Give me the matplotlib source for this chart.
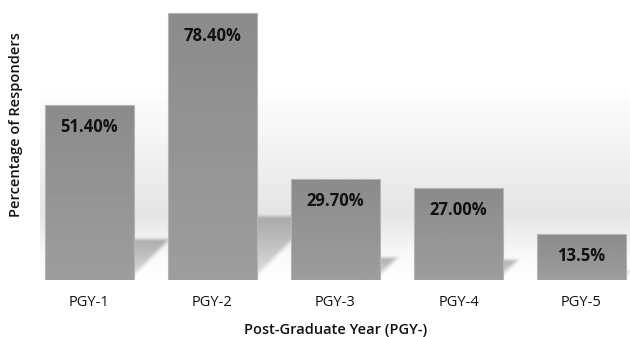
import numpy as np
import matplotlib
matplotlib.use("Agg")
import matplotlib.pyplot as plt

categories = ["PGY-1", "PGY-2", "PGY-3", "PGY-4", "PGY-5"]
values = [51.4, 78.4, 29.7, 27.0, 13.5]
value_labels = ["51.40%", "78.40%", "29.70%", "27.00%", "13.5%"]

plt.rcParams['font.family'] = ['Open Sans', 'DejaVu Sans']

fig = plt.figure(figsize=(6.3, 3.37), dpi=100)
ax = fig.add_axes([40 / 630, 57 / 337, 590 / 630, 280 / 337])

x_lo, x_hi = -0.402, 4.394
y_lo, y_hi = 0, 82.35
x = np.arange(len(categories))
bar_w = 0.72

# background image in axes pixels: soft grey band + floor shadows
W, H = 590, 280
ux = W / (x_hi - x_lo)
uy = H / (y_hi - y_lo)
X, Y = np.meshgrid(np.arange(W) + 0.5, np.arange(H) + 0.5)  # Y = height above floor
px = np.array([0, 25, 50, 65, 100, 150, 200, 280])
gv = np.array([1.0, 0.975, 0.925, 0.895, 0.925, 0.965, 1.0, 1.0])
bg = np.interp(Y, px, gv)

def smooth(t):
    t = np.clip(t, 0, 1)
    return t * t * (3 - 2 * t)

for xi, v in zip(x, values):
    x1 = (xi + bar_w / 2 - x_lo) * ux
    dy = 0.25 * v * uy
    dx = dy
    top = smooth((dy - Y) / 6.0)                   # soft top edge
    diag = smooth(((x1 + Y * dx / dy) - X) / 10.0)  # soft diagonal edge
    inside = top * diag * (X > x1 - 2)
    a = inside * (0.3 + 0.6 * np.clip(Y / dy, 0, 1))
    bg = bg * (1 - a) + 0.63 * a

bg = bg[::-1]
ax.imshow(bg, extent=[x_lo, x_hi, y_lo, y_hi], aspect='auto', cmap='gray',
          vmin=0, vmax=1, zorder=0, interpolation='bilinear')

# bars with a light vertical gradient
bars = ax.bar(x, values, width=bar_w, color='none', edgecolor='#b4b4b4',
              linewidth=0.8, zorder=3)
for b in bars:
    x0 = b.get_x()
    h = b.get_height()
    grad = np.linspace(0.545, 0.615, 50)[:, None]
    im = ax.imshow(np.tile(grad, (1, 5)), extent=[x0, x0 + b.get_width(), 0, h],
                   aspect='auto', cmap='gray', vmin=0, vmax=1, zorder=2,
                   interpolation='bilinear')
    im.set_clip_path(b)

for xi, v, lab in zip(x, values, value_labels):
    ax.annotate(lab, (xi, v), xytext=(0, -16), textcoords='offset points',
                ha='center', va='center', fontsize=12, fontweight='bold',
                color='#111111', zorder=4)

ax.set_xlim(x_lo, x_hi)
ax.set_ylim(y_lo, y_hi)
ax.set_xticks(x)
ax.set_xticklabels(categories, fontsize=10.5, color='#111111')
ax.tick_params(axis='x', length=0, pad=11)
ax.set_yticks([])
for s in ax.spines.values():
    s.set_visible(False)

ax.set_xlabel("Post-Graduate Year (PGY-)", fontsize=10.5, fontweight='semibold',
              color='#111111')
ax.xaxis.set_label_coords((336 - 40) / 590, (280 - 330) / 280)
ax.xaxis.label.set_va('center')
ax.set_ylabel("Percentage of Responders", fontsize=10.5, fontweight='semibold',
              color='#111111')
ax.yaxis.set_label_coords((16 - 40) / 590, (280 - 125) / 280)
ax.yaxis.label.set_va('center')

fig.savefig('out.png', dpi=100)
